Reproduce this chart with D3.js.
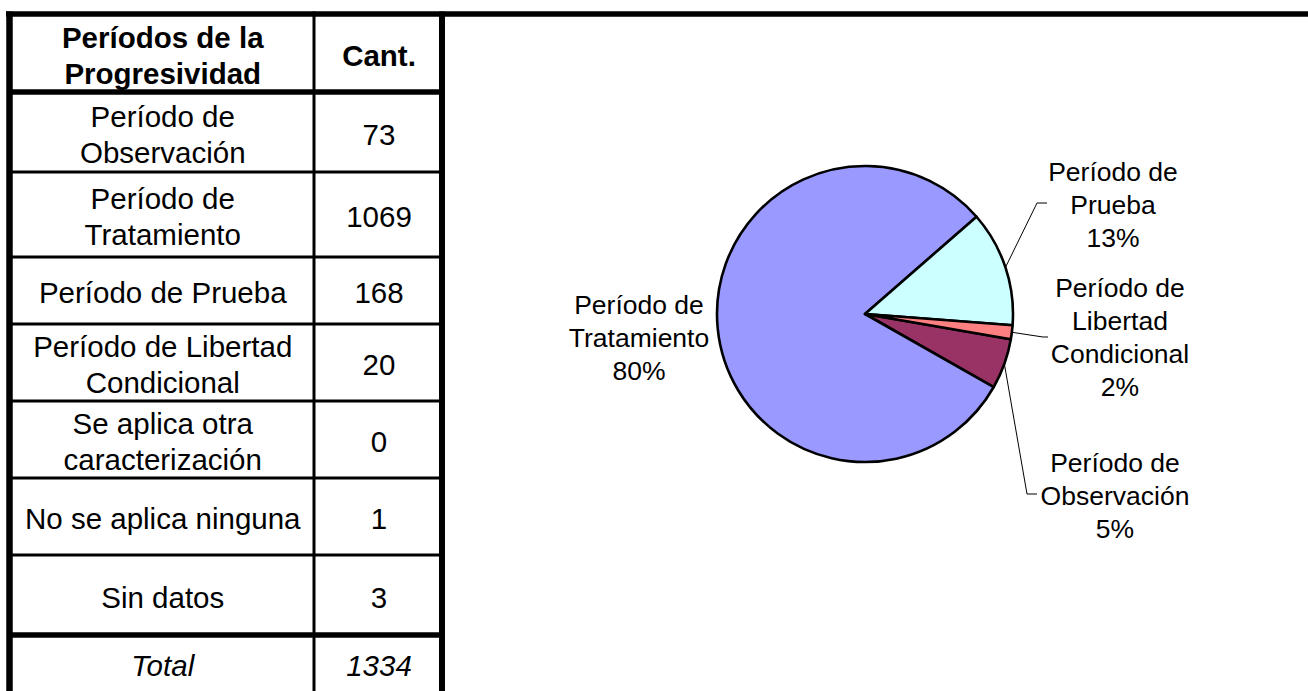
<!DOCTYPE html>
<html>
<head>
<meta charset="utf-8">
<script src="https://cdn.jsdelivr.net/npm/d3@7"></script>
<style>
  body { margin: 0; background: #fff; }
  svg { display: block; font-family: "Liberation Sans", Arial, sans-serif; }
</style>
</head>
<body>
<div id="container"></div>
<script>
// table data
const headers = ["Períodos de la\nProgresividad", "Cant."];
const periodos = ["Período de\nObservación", "Período de\nTratamiento", "Período de Prueba",
                  "Período de Libertad\nCondicional", "Se aplica otra\ncaracterización",
                  "No se aplica ninguna", "Sin datos"];
const cantidades = [73, 1069, 168, 20, 0, 1, 3];
const totalLabel = "Total";
const total = 1334;

// pie data (first four rows)
const pieLabels = ["Período de\nObservación", "Período de\nTratamiento", "Período de\nPrueba",
                   "Período de\nLibertad\nCondicional"];
const pieValues = [73, 1069, 168, 20];
const pieColors = ["#993366", "#9999ff", "#ccffff", "#ff8080"];

const w = 1308, h = 691;
const svg = d3.select("#container").append("svg")
  .attr("width", w).attr("height", h);

// ---- table ----
const rowEdges = [14, 92, 172, 257, 324, 401, 478, 555, 635, 691];
const colLeft = 9.5, colMid = 314, colRight = 442;
const labelX = (colLeft + colMid) / 2 + 1;
const countX = (colMid + colRight) / 2 + 1;
const pitch = 36;
const fs = 29.5;

function lines(g, str, x, cy, size, weight, style, lh) {
  const parts = str.split("\n");
  parts.forEach((p, i) => {
    g.append("text")
      .attr("x", x)
      .attr("y", cy + (i - (parts.length - 1) / 2) * lh)
      .attr("dy", "0.36em")
      .attr("text-anchor", "middle")
      .attr("font-size", size)
      .attr("font-weight", weight)
      .attr("font-style", style)
      .attr("fill", "#000")
      .text(p);
  });
}

const table = svg.append("g");
const rowMid = i => (rowEdges[i] + rowEdges[i + 1]) / 2 + 2;

lines(table, headers[0], labelX, rowMid(0), fs, "bold", "normal", pitch);
lines(table, headers[1], countX, rowMid(0), fs, "bold", "normal", pitch);

periodos.forEach((p, i) => {
  lines(table, p, labelX, rowMid(i + 1), fs, "normal", "normal", pitch);
  lines(table, String(cantidades[i]), countX, rowMid(i + 1), fs, "normal", "normal", pitch);
});
lines(table, totalLabel, labelX, rowMid(8), fs, "normal", "italic", pitch);
lines(table, String(total), countX, rowMid(8), fs, "normal", "italic", pitch);

// grid lines
const thick = new Set([0, 1, 8]);
rowEdges.slice(0, 9).forEach((y, i) => {
  table.append("line")
    .attr("x1", i === 0 ? 6 : colLeft).attr("x2", i === 0 ? w : colRight)
    .attr("y1", y).attr("y2", y)
    .attr("stroke", "#000")
    .attr("stroke-width", thick.has(i) ? 5.5 : 3);
});
[[colLeft, 6.5], [colMid, 3], [colRight, 6]].forEach(([x, sw]) => {
  table.append("line")
    .attr("x1", x).attr("x2", x)
    .attr("y1", 11.5).attr("y2", h)
    .attr("stroke", "#000")
    .attr("stroke-width", sw);
});

// ---- pie ----
const cx = 865, cy = 314, r = 148;
const startAngle = 99.8 * Math.PI / 180;
const pie = d3.pie().sort(null).value(d => d)
  .startAngle(startAngle).endAngle(startAngle + 2 * Math.PI);
const arcs = pie(pieValues);
const arc = d3.arc().innerRadius(0).outerRadius(r);
const edge = d3.arc().innerRadius(r).outerRadius(r);
const sum = d3.sum(pieValues);

const pg = svg.append("g").attr("transform", `translate(${cx},${cy})`);
pg.selectAll("path").data(arcs).enter().append("path")
  .attr("d", arc)
  .attr("fill", (d, i) => pieColors[i])
  .attr("stroke", "#000")
  .attr("stroke-width", 2.6)
  .attr("stroke-linejoin", "round");

// label layout: centre of text block and leader elbow (relative to pie centre)
const labelLayout = [
  { x: 250, y: 181, elbow: [162, 180], end: [172, 180] },
  { x: -226, y: 23, elbow: null },
  { x: 248, y: -110, elbow: [172, -111], end: [182, -111] },
  { x: 255, y: 23, elbow: [178, 23], end: [183, 23] }
];
const lg = svg.append("g").attr("transform", `translate(${cx},${cy})`);
arcs.forEach((d, i) => {
  const L = labelLayout[i];
  const pct = Math.round(d.data / sum * 100) + "%";
  lines(lg, pieLabels[i] + "\n" + pct, L.x, L.y, 26.5, "normal", "normal", 33);
  if (L.elbow) {
    const p0 = edge.centroid(d);
    lg.append("polyline")
      .attr("points", [p0, L.elbow, L.end].map(p => p.join(",")).join(" "))
      .attr("fill", "none")
      .attr("stroke", "#000")
      .attr("stroke-width", 1);
  }
});
</script>
</body>
</html>
